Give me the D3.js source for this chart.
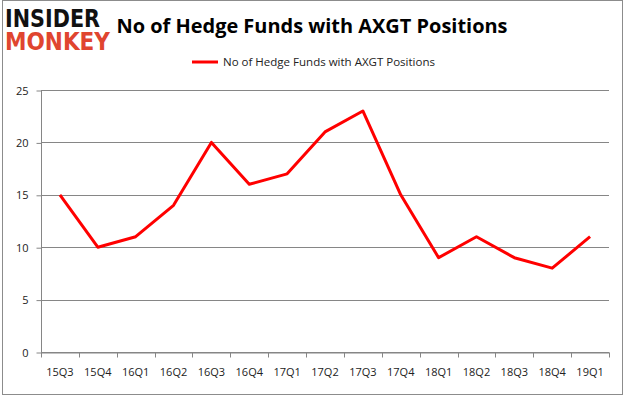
<!DOCTYPE html>
<html>
<head>
<meta charset="utf-8">
<script src="https://cdn.jsdelivr.net/npm/d3@7"></script>
<style>
	body { margin: 0; background: #fff; }
	svg { display: block; }
</style>
</head>
<body>
<svg id="chart" width="626" height="397"></svg>
<script>
// chart data
var quarters = ["15Q3","15Q4","16Q1","16Q2","16Q3","16Q4","17Q1","17Q2","17Q3","17Q4","18Q1","18Q2","18Q3","18Q4","19Q1"];
var fundCounts = [15,10,11,14,20,16,17,21,23,15,9,11,9,8,11];
var yTicks = [0,5,10,15,20,25];
var seriesName = "No of Hedge Funds with AXGT Positions";
var chartTitle = "No of Hedge Funds with AXGT Positions";

var svg = d3.select("#chart");
var plotLeft = 41, plotRight = 609, plotTop = 90, plotBottom = 352;
var font = "'Open Sans', 'Liberation Sans', sans-serif";

// outer frame
svg.append("rect")
	.attr("x", 2.5).attr("y", 0.5)
	.attr("width", 620).attr("height", 394)
	.attr("fill", "none").attr("stroke", "#8c8c8c").attr("stroke-width", 1);

// logo
svg.append("text")
	.attr("x", 5).attr("y", 27)
	.attr("font-family", "'DejaVu Sans', sans-serif").attr("font-weight", "bold")
	.attr("font-size", 24).attr("textLength", 95).attr("lengthAdjust", "spacingAndGlyphs")
	.attr("fill", "#111").text("INSIDER");
svg.append("text")
	.attr("x", 5).attr("y", 50)
	.attr("font-family", "'DejaVu Sans', sans-serif").attr("font-weight", "bold")
	.attr("font-size", 24).attr("textLength", 105).attr("lengthAdjust", "spacingAndGlyphs")
	.attr("fill", "#e0452f").text("MONKEY");

// title
svg.append("text")
	.attr("x", 312).attr("y", 33)
	.attr("text-anchor", "middle")
	.attr("font-family", font).attr("font-weight", "bold")
	.attr("font-size", 20).attr("textLength", 391).attr("lengthAdjust", "spacingAndGlyphs")
	.attr("fill", "#000").text(chartTitle);

// legend
svg.append("line")
	.attr("x1", 192).attr("x2", 218).attr("y1", 62).attr("y2", 62)
	.attr("stroke", "#ff0000").attr("stroke-width", 3);
svg.append("text")
	.attr("x", 223).attr("y", 66)
	.attr("font-family", font).attr("font-size", 11)
	.attr("textLength", 212).attr("lengthAdjust", "spacingAndGlyphs")
	.attr("fill", "#222").text(seriesName);

var x = d3.scaleBand().domain(quarters).range([plotLeft, plotRight]);
var y = d3.scaleLinear().domain([0, 25]).range([plotBottom, plotTop]);

// gridlines
svg.append("g").selectAll("line").data(yTicks).enter().append("line")
	.attr("x1", plotLeft).attr("x2", plotRight)
	.attr("y1", function(d){ return Math.round(y(d)) + 0.5; })
	.attr("y2", function(d){ return Math.round(y(d)) + 0.5; })
	.attr("stroke", "#868686").attr("stroke-width", 1);

// y axis
var yAxis = svg.append("g")
	.attr("transform", "translate(" + (plotLeft + 0.5) + ",0.5)")
	.call(d3.axisLeft(y).tickValues(yTicks).tickSize(5).tickPadding(8));
yAxis.select(".domain").attr("stroke", "#868686").attr("d", "M0," + plotTop + "V" + plotBottom);
yAxis.selectAll(".tick line").attr("stroke", "#868686");
yAxis.selectAll("text").attr("font-family", font).attr("font-size", 11).attr("fill", "#222");

// x axis
var xAxis = svg.append("g")
	.attr("transform", "translate(0," + (plotBottom + 0.5) + ")")
	.call(d3.axisBottom(x).tickSize(0).tickPadding(16));
xAxis.select(".domain").attr("stroke", "#868686");
xAxis.selectAll("text").attr("font-family", font).attr("font-size", 11).attr("fill", "#222");
xAxis.selectAll(".sep").data(d3.range(quarters.length + 1)).enter().append("line")
	.attr("class", "sep")
	.attr("x1", function(i){ return Math.round(plotLeft + i * x.step()) + 0.5; })
	.attr("x2", function(i){ return Math.round(plotLeft + i * x.step()) + 0.5; })
	.attr("y1", 0).attr("y2", 5)
	.attr("stroke", "#868686");

// series line
var line = d3.line()
	.x(function(d, i){ return x(quarters[i]) + x.bandwidth() / 2; })
	.y(function(d){ return y(d); });
svg.append("path")
	.datum(fundCounts)
	.attr("d", line)
	.attr("fill", "none")
	.attr("stroke", "#ff0000")
	.attr("stroke-width", 3)
	.attr("stroke-linejoin", "round");
</script>
</body>
</html>
